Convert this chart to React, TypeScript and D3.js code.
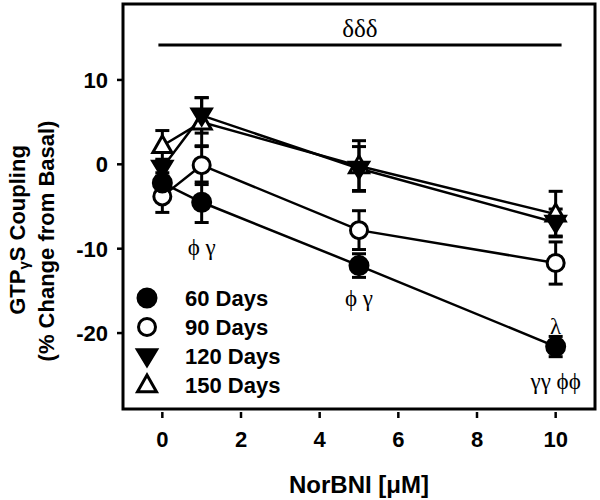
import React from "react";
import * as d3 from "d3";

const doses = [0, 1, 5, 10];
const seriesNames = ["60 Days", "90 Days", "120 Days", "150 Days"];
const days60 = [-2.2, -4.5, -12.0, -21.6];
const days60Err = [1.2, 2.4, 1.4, 1.2];
const days90 = [-3.8, -0.1, -7.8, -11.7];
const days90Err = [1.9, 2.3, 2.3, 2.5];
const days120 = [-0.4, 5.8, -0.5, -6.9];
const days120Err = [1.0, 2.1, 2.6, 1.6];
const days150 = [2.2, 5.0, -0.2, -5.9];
const days150Err = [1.8, 2.9, 3.0, 2.7];
const xTicks = [0, 2, 4, 6, 8, 10];
const yTicks = [10, 0, -10, -20];
const annotations = [
  { x: 1, y: -9.8, text: "ϕ γ" },
  { x: 5, y: -15.8, text: "ϕ γ" },
  { x: 10, y: -19.2, text: "λ" },
  { x: 10, y: -25.7, text: "γγ ϕϕ" },
];

const markerTypes = ["circleFilled", "circleOpen", "triDown", "triUp"];

function Marker({ type, cx, cy, r = 9 }: { type: string; cx: number; cy: number; r?: number }) {
  if (type === "circleFilled")
    return <circle cx={cx} cy={cy} r={r} fill="#000" stroke="#000" strokeWidth={2} />;
  if (type === "circleOpen")
    return <circle cx={cx} cy={cy} r={r - 1} fill="#fff" stroke="#000" strokeWidth={3} />;
  const s = r + 1;
  if (type === "triDown") {
    const p = `M${cx - s},${cy - s * 0.65} L${cx + s},${cy - s * 0.65} L${cx},${cy + s * 1.0} Z`;
    return <path d={p} fill="#000" stroke="#000" strokeWidth={2} strokeLinejoin="miter" />;
  }
  const p = `M${cx - s + 1},${cy + s * 0.65} L${cx + s - 1},${cy + s * 0.65} L${cx},${cy - s * 0.95} Z`;
  return <path d={p} fill="#fff" stroke="#000" strokeWidth={3} strokeLinejoin="miter" />;
}

export default function App() {
  const W = 600, H = 500;
  const left = 123, right = 595, top = 4, bottom = 409;
  const x = d3.scaleLinear().domain([-1, 11]).range([left, right]);
  const y = d3.scaleLinear().domain([-29, 19]).range([bottom, top]);
  const series = [
    { vals: days60, errs: days60Err },
    { vals: days90, errs: days90Err },
    { vals: days120, errs: days120Err },
    { vals: days150, errs: days150Err },
  ];
  const line = d3
    .line<number>()
    .x((_, i) => x(doses[i]))
    .y((d) => y(d));
  const sans = "'Liberation Sans', Arial, sans-serif";
  const serif = "'Liberation Serif', 'Times New Roman', serif";
  const cap = 7;
  const drawOrder = [3, 2, 1, 0];

  return (
    <svg width={W} height={H} style={{ position: "absolute", left: 0, top: 0, background: "#fff" }}>
      <rect x={0} y={0} width={W} height={H} fill="#fff" />
      {/* frame */}
      <rect x={left} y={top} width={right - left} height={bottom - top} fill="none" stroke="#000" strokeWidth={3} />
      {/* y ticks */}
      {yTicks.map((t) => (
        <g key={"y" + t}>
          <line x1={left - 6} x2={left} y1={y(t)} y2={y(t)} stroke="#000" strokeWidth={2.5} />
          <text x={108} y={y(t)} dy="0.36em" textAnchor="end" fontFamily={sans} fontWeight="bold" fontSize={22}>
            {t}
          </text>
        </g>
      ))}
      {/* x ticks */}
      {xTicks.map((t) => (
        <g key={"x" + t}>
          <line x1={x(t)} x2={x(t)} y1={bottom + 3} y2={bottom + 9} stroke="#000" strokeWidth={2.5} />
          <text x={x(t)} y={bottom + 38} textAnchor="middle" fontFamily={sans} fontWeight="bold" fontSize={22}>
            {t}
          </text>
        </g>
      ))}
      {/* axis titles */}
      <text x={(left + right) / 2} y={493} textAnchor="middle" fontFamily={sans} fontWeight="bold" fontSize={24}>
        NorBNI [μM]
      </text>
      <g transform={`translate(25,230) rotate(-90)`}>
        <text x={0} y={0} textAnchor="middle" fontFamily={sans} fontWeight="bold" fontSize={22}>
          GTP<tspan fontSize={15} dy={4}>γ</tspan>
          <tspan dy={-4}>S Coupling</tspan>
        </text>
      </g>
      <g transform={`translate(54,241) rotate(-90)`}>
        <text x={0} y={0} textAnchor="middle" fontFamily={sans} fontWeight="bold" fontSize={22}>
          (% Change from Basal)
        </text>
      </g>
      {/* significance bar */}
      <line x1={x(-0.1)} x2={x(10.15)} y1={45} y2={45} stroke="#000" strokeWidth={3} />
      <text x={(x(-0.1) + x(10.15)) / 2} y={37} textAnchor="middle" fontFamily={serif} fontSize={25}>
        δδδ
      </text>
      {/* lines */}
      {drawOrder.map((si) => (
        <path key={"l" + si} d={line(series[si].vals) || ""} fill="none" stroke="#000" strokeWidth={2.5} />
      ))}
      {/* error bars */}
      {drawOrder.map((si) =>
        series[si].vals.map((v, i) => {
          const e = series[si].errs[i];
          const cx = x(doses[i]);
          return (
            <g key={"e" + si + "-" + i} stroke="#000" strokeWidth={3}>
              <line x1={cx} x2={cx} y1={y(v + e)} y2={y(v - e)} />
              <line x1={cx - cap} x2={cx + cap} y1={y(v + e)} y2={y(v + e)} />
              <line x1={cx - cap} x2={cx + cap} y1={y(v - e)} y2={y(v - e)} />
            </g>
          );
        })
      )}
      {/* markers */}
      {drawOrder.map((si) =>
        series[si].vals.map((v, i) => (
          <Marker key={"m" + si + "-" + i} type={markerTypes[si]} cx={x(doses[i])} cy={y(v)} r={9.5} />
        ))
      )}
      {/* annotations */}
      {annotations.map((a, i) => (
        <text key={"a" + i} x={x(a.x)} y={y(a.y)} dy="0.35em" textAnchor="middle" fontFamily={serif} fontSize={23}>
          {a.text}
        </text>
      ))}
      {/* legend */}
      {seriesNames.map((n, i) => {
        const ly = 298 + i * 29;
        return (
          <g key={"lg" + i}>
            <Marker type={markerTypes[i]} cx={147} cy={ly} r={9.5} />
            <text x={185} y={ly} dy="0.36em" fontFamily={sans} fontWeight="bold" fontSize={22}>
              {n}
            </text>
          </g>
        );
      })}
    </svg>
  );
}
